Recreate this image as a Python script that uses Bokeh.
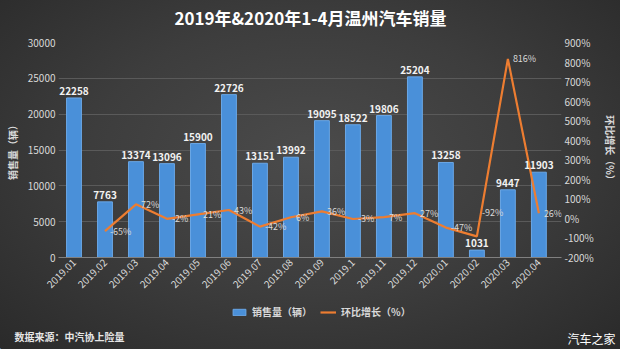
import math
from bokeh.plotting import figure
from bokeh.layouts import column
from bokeh.models import (ColumnDataSource, Range1d, LinearAxis, SingleIntervalTicker, FixedTicker,
                          PrintfTickFormatter, Legend, LegendItem, Label, LabelSet)
from bokeh.core.properties import value
from bokeh.embed import file_html
from bokeh.resources import INLINE

months = ["2019.01", "2019.02", "2019.03", "2019.04", "2019.05", "2019.06", "2019.07", "2019.08",
          "2019.09", "2019.1", "2019.11", "2019.12", "2020.01", "2020.02", "2020.03", "2020.04"]
sales = [22258, 7763, 13374, 13096, 15900, 22726, 13151, 13992,
         19095, 18522, 19806, 25204, 13258, 1031, 9447, 11903]
growth = [float("nan"), -65, 72, -2, 21, 43, -42, 6, 36, -3, 7, 27, -47, -92, 816, 26]

FONT = "Noto Sans CJK SC"
BG = "#3c3c3c"
BG_GRAD = "radial-gradient(ellipse at 50% 45%, #4b4b4b 0%, #3d3d3d 50%, #2a2a2a 100%)"
BAR = "#4a90d9"
BAR_EDGE = "#6aa7e6"
LINE = "#ed7d31"
LBL_YOFF = {"2020.02": 24}   # label nudges (style only)

idx = list(range(len(months)))
src = ColumnDataSource(dict(i=idx, sales=sales, stxt=[str(v) for v in sales]))
gi = [i for i, g in zip(idx, growth) if not math.isnan(g)]
gv = [g for g in growth if not math.isnan(g)]
gsrc = ColumnDataSource(dict(i=gi, g=gv, t=["%d%%" % g for g in gv],
                             yo=[LBL_YOFF.get(months[i], 0) for i in gi]))


def clear_bg(fig):
    fig.background_fill_alpha = 0
    fig.border_fill_alpha = 0
    fig.outline_line_color = None
    fig.frame_align = False


def blank(h):
    fig = figure(x_range=Range1d(0, 620), y_range=Range1d(0, h), width=620, height=h,
                 output_backend="svg", toolbar_location=None, min_border=0,
                 x_axis_location=None, y_axis_location=None)
    fig.grid.visible = False
    clear_bg(fig)
    return fig

# header
h = blank(32)
h.add_layout(Label(x=310, y=15, text="2019年&2020年1-4月温州汽车销量", text_align="center",
                   text_baseline="middle", text_color="#ffffff", text_font_size="17px",
                   text_font_style="bold", text_font=FONT))

# main chart
p = figure(x_range=Range1d(-0.5, len(months) - 0.27), y_range=Range1d(0, 30000),
           width=620, height=266, output_backend="svg", toolbar_location=None,
           min_border_left=58, min_border_right=54, min_border_top=10, min_border_bottom=41)
clear_bg(p)

p.extra_y_ranges = {"pct": Range1d(-200, 900)}

bars = p.vbar(x="i", top="sales", width=0.48, source=src, fill_color=BAR,
              line_color=BAR_EDGE, line_width=1)
line = p.line(x="i", y="g", y_range_name="pct", source=gsrc, line_color=LINE, line_width=2.2)

p.add_layout(LabelSet(x="i", y="sales", text="stxt", source=src, y_offset=3, text_align="center",
                      text_baseline="bottom", text_color="#f2f2f2", text_font_size="10px",
                      text_font_style="bold", text_font=value(FONT)))
p.add_layout(LabelSet(x="i", y="g", text="t", source=gsrc, y_range_name="pct", x_offset=5,
                      y_offset="yo",
                      text_align="left", text_baseline="middle", text_color="#d9d9d9",
                      text_font_size="9px", text_font=value(FONT)))


def style_axis(a):
    a.axis_line_color = None
    a.major_tick_line_color = None
    a.minor_tick_line_color = None
    a.major_tick_out = 0
    a.minor_tick_out = 0
    a.major_label_text_color = "#d9d9d9"
    a.major_label_text_font_size = "10px"
    a.major_label_text_font = FONT
    a.major_label_standoff = 3

# left axis
ax = p.yaxis[0]
ax.ticker = SingleIntervalTicker(interval=5000)
style_axis(ax)
ax.axis_label = "销售量（辆）"
ax.axis_label_text_color = "#d9d9d9"
ax.axis_label_text_font_size = "10px"
ax.axis_label_text_font_style = "bold"
ax.axis_label_text_font = FONT
ax.axis_label_standoff = 5

# right axis
rax = LinearAxis(y_range_name="pct", ticker=SingleIntervalTicker(interval=100),
                 formatter=PrintfTickFormatter(format="%d%%"))
style_axis(rax)
rax.axis_label = "环比增长（%）"
rax.axis_label_text_color = "#d9d9d9"
rax.axis_label_text_font_size = "10px"
rax.axis_label_text_font_style = "bold"
rax.axis_label_text_font = FONT
rax.axis_label_standoff = 6
p.add_layout(rax, "right")

# bottom axis
xa = p.xaxis[0]
style_axis(xa)
xa.axis_line_color = "#808080"
xa.ticker = FixedTicker(ticks=idx)
xa.major_label_overrides = {i: m for i, m in zip(idx, months)}
xa.major_label_orientation = math.pi / 4

p.xgrid.grid_line_color = None
p.ygrid.grid_line_color = "#5a5a5a"
p.ygrid.grid_line_width = 1

# footer with legend and source notes
f = blank(51)
lb = f.vbar(x=[-100], top=[1], width=1, fill_color=BAR, line_color=BAR_EDGE)
ll = f.line(x=[-100, -99], y=[1, 1], line_color=LINE, line_width=2.2)
legend = Legend(items=[LegendItem(label="销售量（辆）", renderers=[lb]),
                       LegendItem(label="环比增长（%）", renderers=[ll])],
                orientation="horizontal", location=(231, 30),
                background_fill_alpha=0, border_line_color=None,
                label_text_color="#d9d9d9", label_text_font_size="10px", label_text_font=FONT,
                label_text_font_style="bold",
                glyph_width=16, glyph_height=8, spacing=8, padding=2, margin=0)
f.add_layout(legend)
f.add_layout(Label(x=14, y=13, text="数据来源：中汽协上险量", text_align="left",
                   text_baseline="middle", text_color="#e6e6e6", text_font_size="10px",
                   text_font_style="bold", text_font=FONT))
f.add_layout(Label(x=615, y=11, text="汽车之家", text_align="right", text_baseline="middle",
                   text_color="#ffffff", text_font_size="12px", text_font=FONT))

layout = column(h, p, f, spacing=0)
layout.styles = {"background": BG_GRAD}

html = file_html(layout, INLINE)
html = html.replace("<head>", "<head><style>html,body{margin:0;background:%s;}</style>" % BG, 1)
open("out.html", "w").write(html)
